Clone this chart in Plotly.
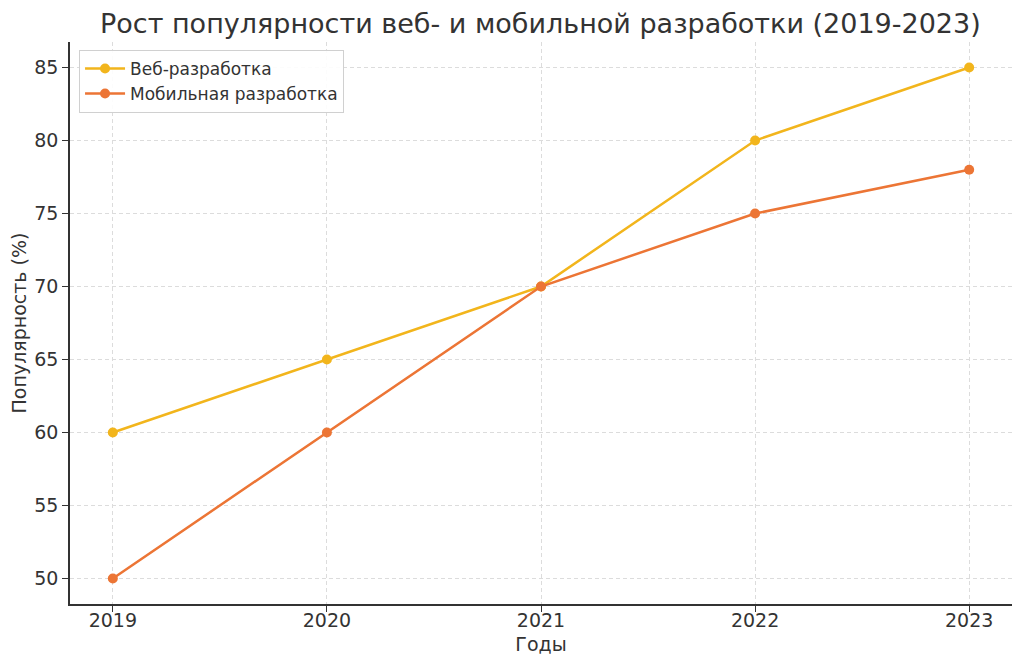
import plotly.graph_objects as go

years = [2019, 2020, 2021, 2022, 2023]
web_dev = [60, 65, 70, 80, 85]
mobile_dev = [50, 60, 70, 75, 78]

web_color = "#F2B51C"
mobile_color = "#EC7535"
font = "DejaVu Sans"

fig = go.Figure()
fig.add_trace(go.Scatter(x=years, y=web_dev, mode="lines+markers", name="Веб-разработка",
                         line=dict(color=web_color, width=2.5), marker=dict(size=10, color=web_color)))
fig.add_trace(go.Scatter(x=years, y=mobile_dev, mode="lines+markers", name="Мобильная разработка",
                         line=dict(color=mobile_color, width=2.5), marker=dict(size=10, color=mobile_color)))

# page has an 8px body margin, so the figure is a bit smaller than the window
fig.update_layout(
    width=1016, height=661,
    margin=dict(l=62, r=12, t=34, b=65),
    plot_bgcolor="white", paper_bgcolor="white",
    font=dict(family=font, color="#333333"),
    title=dict(text="Рост популярности веб- и мобильной разработки (2019-2023)",
               x=0.524, xanchor="center", y=0.976, yanchor="middle",
               font=dict(size=27, color="#333333")),
    legend=dict(x=0.0096, y=0.986, xanchor="left", yanchor="top",
                bgcolor="rgba(255,255,255,0.9)", bordercolor="#d0d0d0", borderwidth=1,
                font=dict(size=17, color="#333333"), itemwidth=40, tracegroupgap=2),
    showlegend=True,
)
fig.update_xaxes(
    range=[2018.8, 2023.2], tickvals=years, ticktext=[str(y) for y in years],
    showgrid=True, gridcolor="#dcdcdc", griddash="4px,3px", gridwidth=1,
    showline=True, linecolor="#333333", linewidth=1.5, mirror=False,
    ticks="outside", ticklen=6, tickcolor="#333333", tickfont=dict(size=19),
    ticklabelstandoff=-8,
    title=dict(text="Годы", font=dict(size=19), standoff=8), zeroline=False, automargin=False,
)
fig.update_yaxes(
    range=[48.25, 86.75], tickvals=[50, 55, 60, 65, 70, 75, 80, 85],
    showgrid=True, gridcolor="#dcdcdc", griddash="4px,3px", gridwidth=1,
    showline=True, linecolor="#333333", linewidth=1.5, mirror=False,
    ticks="outside", ticklen=6, tickcolor="#333333", tickfont=dict(size=19),
    title=dict(text="Популярность (%)", font=dict(size=19), standoff=3), zeroline=False, automargin=False,
)

fig.write_html("out.html")
